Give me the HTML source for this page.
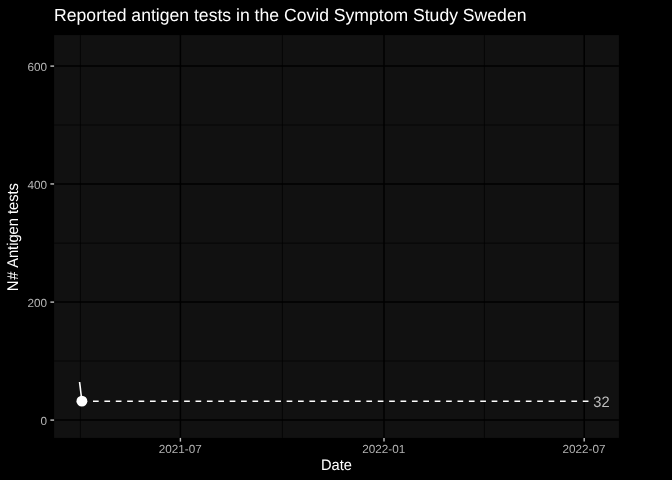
<!DOCTYPE html>
<html>
<head>
<meta charset="utf-8">
<style>
html,body{margin:0;padding:0;background:#000;}
body{width:672px;height:480px;overflow:hidden;}
svg{display:block;will-change:transform;}
text{text-rendering:geometricPrecision;font-family:"Liberation Sans",sans-serif;}
</style>
</head>
<body>
<svg width="672" height="480" viewBox="0 0 672 480">
<rect x="0" y="0" width="672" height="480" fill="#000"/>
<!-- panel -->
<rect x="54.1" y="35.1" width="564.8" height="402.8" fill="#111111"/>
<!-- minor grid -->
<g stroke="#000" stroke-width="0.71" fill="none">
<line x1="54.1" x2="618.9" y1="125" y2="125"/>
<line x1="54.1" x2="618.9" y1="243.1" y2="243.1"/>
<line x1="54.1" x2="618.9" y1="361" y2="361"/>
<line x1="80.4" x2="80.4" y1="35.1" y2="437.9"/>
<line x1="282.4" x2="282.4" y1="35.1" y2="437.9"/>
<line x1="484.4" x2="484.4" y1="35.1" y2="437.9"/>
</g>
<!-- major grid -->
<g stroke="#000" stroke-width="1.5" fill="none">
<line x1="54.1" x2="618.9" y1="66.1" y2="66.1"/>
<line x1="54.1" x2="618.9" y1="183.95" y2="183.95"/>
<line x1="54.1" x2="618.9" y1="302.1" y2="302.1"/>
<line x1="54.1" x2="618.9" y1="420.1" y2="420.1"/>
<line x1="180.4" x2="180.4" y1="35.1" y2="437.9"/>
<line x1="384" x2="384" y1="35.1" y2="437.9"/>
<line x1="584.2" x2="584.2" y1="35.1" y2="437.9"/>
</g>
<!-- data -->
<line x1="79.57" y1="382.0" x2="81.9" y2="401.2" stroke="#fff" stroke-width="1.6" stroke-linecap="butt"/>
<line x1="93" y1="401.2" x2="588.9" y2="401.2" stroke="#fff" stroke-width="1.42" stroke-dasharray="5.695 5.695"/>
<circle cx="81.9" cy="401.15" r="5.45" fill="#fff"/>
<text transform="translate(593.3,406.8) scale(1,1.03)" font-size="14.67" fill="#bebebe">32</text>
<!-- ticks -->
<g stroke="#bcbcbc" stroke-width="1.42">
<line x1="50.4" x2="54.1" y1="66.1" y2="66.1"/>
<line x1="50.4" x2="54.1" y1="183.95" y2="183.95"/>
<line x1="50.4" x2="54.1" y1="302.1" y2="302.1"/>
<line x1="50.4" x2="54.1" y1="420.1" y2="420.1"/>
<line x1="180.4" x2="180.4" y1="437.9" y2="441.6"/>
<line x1="384" x2="384" y1="437.9" y2="441.6"/>
<line x1="584.2" x2="584.2" y1="437.9" y2="441.6"/>
</g>
<!-- axis text -->
<g font-size="11.73" fill="#b3b3b3">
<text transform="translate(47.1,71.2) scale(1,1.0001)" text-anchor="end">600</text>
<text transform="translate(47.1,189.05) scale(1,1.0001)" text-anchor="end">400</text>
<text transform="translate(47.1,307.2) scale(1,1.0001)" text-anchor="end">200</text>
<text transform="translate(47.1,425.2) scale(1,1.0001)" text-anchor="end">0</text>
<text transform="translate(180.2,453.3) scale(1,1.0001)" text-anchor="middle">2021-07</text>
<text transform="translate(383.8,453.3) scale(1,1.0001)" text-anchor="middle">2022-01</text>
<text transform="translate(584.0,453.3) scale(1,1.0001)" text-anchor="middle">2022-07</text>
</g>
<!-- titles -->
<text x="54.1" y="20.7" font-size="17.6" fill="#fff">Reported antigen tests in the Covid Symptom Study Sweden</text>
<text transform="translate(336.5,470) scale(1,1.04)" font-size="14.67" fill="#fff" text-anchor="middle">Date</text>
<text transform="translate(17.7,236.5) rotate(-90) scale(1,1.06)" font-size="14.67" fill="#fff" x="-54.87 -43.2 -34.63">N# Antigen tests</text>
</svg>
</body>
</html>
